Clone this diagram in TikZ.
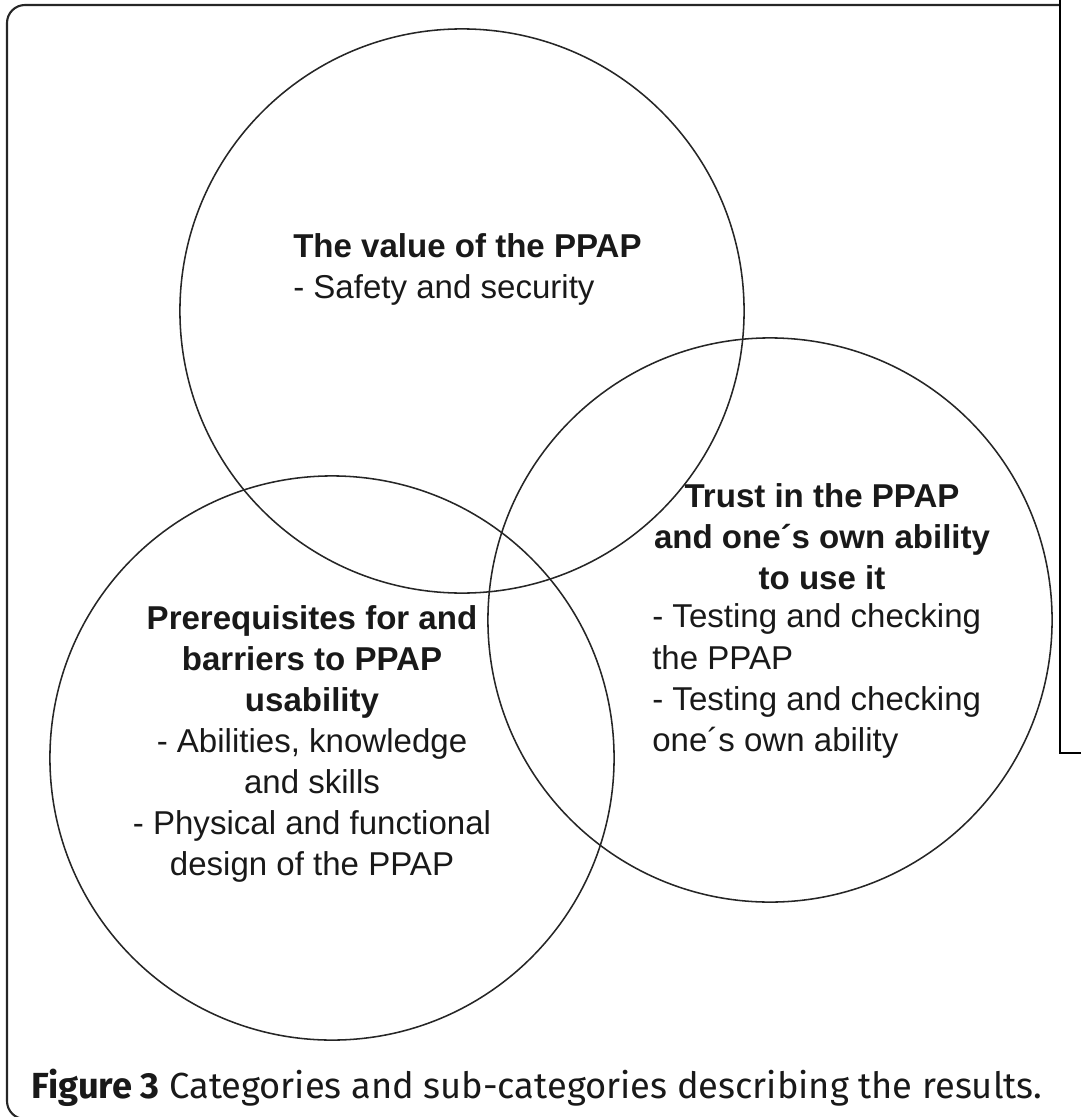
\documentclass[tikz,border=0pt]{standalone}
\usepackage{fontspec}
\setmainfont{Liberation Sans}
\newfontfamily\capfont{Fira Sans}
\usetikzlibrary{shapes}

\begin{document}
\begin{tikzpicture}[x=0.025cm,y=-0.025cm]
	\tikzstyle{every node}+=[inner sep=0pt]
	\tikzstyle{venn}=[draw=black!85, circle, line width=1.1pt, minimum size=14.1cm]
	\tikzstyle{cattext}=[font=\fontsize{23.5}{29.2}\selectfont, text=black!90]
	\useasboundingbox (0,0) rectangle (1081,1117);
	% frame
	\draw [black!85, line width=1.5pt, rounded corners=0.45cm] (1060,5) -- (7,5) -- (7,1119) -- (60,1119);
	\draw [black!85, line width=2pt] (30,5) -- (1060,5);
	\draw [black, line width=1.2pt] (1060,0) -- (1060,753) -- (1081,753);
	% circles
	\node [venn] (value) at (462,311) {};
	\node [venn] (prereq) at (332,758) {};
	\node [venn] (trust) at (770,620) {};
	% texts
	\node [cattext, align=left, anchor=west] (valuetext) at (293,269) {\textbf{The value of the PPAP}\\- Safety and security};
	\node [cattext, align=center] (prereqtext) at (312,744) {\textbf{Prerequisites for and}\\\textbf{barriers to PPAP}\\\textbf{usability}\\- Abilities, knowledge\\and skills\\- Physical and functional\\design of the PPAP};
	\node [cattext, align=center] (trusthead) at (822,537) {\textbf{Trust in the PPAP}\\\textbf{and one´s own ability}\\\textbf{to use it}};
	\node [cattext, align=left, anchor=west] (trustitems) at (652,681) {- Testing and checking\\the PPAP\\- Testing and checking\\one´s own ability};
	% caption
	\node [font=\capfont\fontsize{25.8}{30}\selectfont, text=black!90] (caption) at (537,1088) {\textbf{Figure 3} Categories and sub-categories describing the results.};
\end{tikzpicture}
\end{document}
